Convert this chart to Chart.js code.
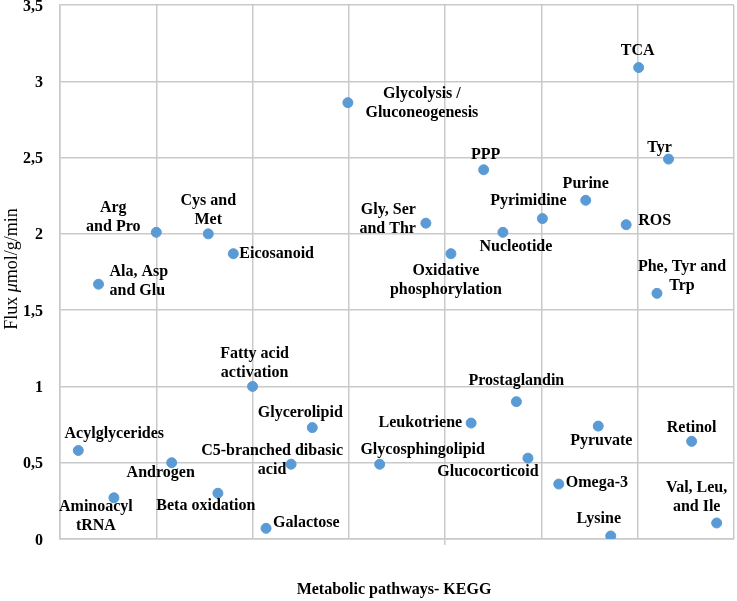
<!DOCTYPE html>
<html>
<head>
<meta charset="utf-8">
<script src="https://cdn.jsdelivr.net/npm/chart.js@4.4.1/dist/chart.umd.min.js"></script>
<style>
  html, body { margin: 0; padding: 0; background: #fff; overflow: hidden; }
  canvas { display: block; }
</style>
</head>
<body>
<canvas id="c" width="737" height="601" style="width:737px;height:601px"></canvas>
<script>
/* Flux per KEGG pathway */
const pathways = [
  'Acylglycerides', 'Ala, Asp\nand Glu', 'Aminoacyl\ntRNA', 'Arg\nand Pro', 'Androgen',
  'Cys and\nMet', 'Beta oxidation', 'Eicosanoid', 'Fatty acid\nactivation', 'Galactose',
  'C5-branched dibasic\nacid', 'Glycerolipid', 'Glycolysis /\nGluconeogenesis', 'Glycosphingolipid',
  'Gly, Ser\nand Thr', 'Oxidative\nphosphorylation', 'Leukotriene', 'PPP', 'Nucleotide',
  'Prostaglandin', 'Glucocorticoid', 'Pyrimidine', 'Omega-3', 'Purine', 'Pyruvate', 'Lysine',
  'ROS', 'TCA', 'Phe, Tyr and\nTrp', 'Tyr', 'Retinol', 'Val, Leu,\nand Ile'
];
const pathwayPos = [
  0.95, 2.0, 2.8, 5.0, 5.8, 7.7, 8.2, 9.0, 10.0, 10.7,
  12.0, 13.1, 14.95, 16.6, 19.0, 20.3, 21.35, 22.0, 23.0, 23.7,
  24.3, 25.05, 25.9, 27.3, 27.95, 28.6, 29.4, 30.05, 31.0, 31.6,
  32.8, 34.1
];
const fluxValues = [
  0.58, 1.67, 0.27, 2.01, 0.50, 2.00, 0.30, 1.87, 1.00, 0.07,
  0.49, 0.73, 2.86, 0.49, 2.07, 1.87, 0.76, 2.42, 2.01, 0.90,
  0.53, 2.10, 0.36, 2.22, 0.74, 0.02, 2.06, 3.09, 1.61, 2.49,
  0.64, 0.105
];
const yTicks = [0, 0.5, 1, 1.5, 2, 2.5, 3, 3.5];
const xTitle = 'Metabolic pathways- KEGG';
const yTitle = ['Flux ', 'μ', 'mol/g/min'];

/* posição dos rótulos: [dx, dy da 1ª linha, alinhamento] */
const labelPlace = [
  [36, -17, 'center'], [11, -12, 'left'], [-18, 9, 'center'], [-43, -24, 'center'], [-11, 10, 'center'],
  [0, -33, 'center'], [-12, 13, 'center'], [6, 0, 'left'], [2, -33, 'center'], [7, -5, 'left'],
  [-19, -13, 'center'], [-12, -15, 'center'], [74, -9, 'center'], [43, -14, 'center'],
  [-10, -13, 'right'], [-5, 17, 'center'], [-9, 0, 'right'], [2, -15, 'center'], [13, 15, 'center'],
  [0, -21, 'center'], [-40, 14, 'center'], [-14, -18, 'center'], [7, -1, 'left'], [0, -16, 'center'],
  [3, 15, 'center'], [-12, -17, 'center'], [12, -4, 'left'], [-1, -17, 'center'], [25, -27, 'center'],
  [-9, -11, 'center'], [0, -13, 'center'], [-20, -35, 'center']
];

const SERIF = '"Liberation Serif", "Times New Roman", serif';
const gridCol = '#c9c9c9';

const pointLabels = {
  id: 'pointLabels',
  afterDatasetsDraw(chart) {
    const { ctx } = chart;
    const meta = chart.getDatasetMeta(0);
    ctx.save();
    ctx.font = 'bold 16px ' + SERIF;
    ctx.fillStyle = '#000';
    ctx.textBaseline = 'middle';
    meta.data.forEach((pt, i) => {
      const [dx, dy, align] = labelPlace[i];
      ctx.textAlign = align;
      pathways[i].split('\n').forEach((line, k) => {
        ctx.fillText(line, pt.x + dx, pt.y + dy + k * 19);
      });
    });
    ctx.restore();
  }
};

const axisTitles = {
  id: 'axisTitles',
  afterDraw(chart) {
    const { ctx, chartArea } = chart;
    ctx.save();
    ctx.fillStyle = '#000';
    ctx.textBaseline = 'middle';
    ctx.textAlign = 'center';
    ctx.font = 'bold 16px ' + SERIF;
    ctx.fillText(xTitle, (chartArea.left + chartArea.right) / 2 - 3, 590);

    // título vertical com µ em itálico
    const fonts = ['18px ' + SERIF, 'italic 18px ' + SERIF, '18px ' + SERIF];
    const widths = yTitle.map((t, i) => { ctx.font = fonts[i]; return ctx.measureText(t).width; });
    const total = widths.reduce((a, b) => a + b, 0);
    ctx.translate(12, 269);
    ctx.rotate(-Math.PI / 2);
    ctx.textAlign = 'left';
    let x = -total / 2;
    yTitle.forEach((t, i) => { ctx.font = fonts[i]; ctx.fillText(t, x, 0); x += widths[i]; });
    ctx.restore();
  }
};

new Chart(document.getElementById('c'), {
  type: 'scatter',
  data: {
    datasets: [{
      data: pathwayPos.map((x, i) => ({ x, y: fluxValues[i] })),
      backgroundColor: '#5b9bd5',
      borderColor: '#5b9bd5',
      borderWidth: 1,
      pointRadius: 5,
      pointHoverRadius: 5
    }]
  },
  options: {
    responsive: false,
    animation: false,
    devicePixelRatio: 1,
    layout: { autoPadding: false, padding: { top: 5, right: 3, left: 0, bottom: 0 } },
    plugins: { legend: { display: false }, tooltip: { enabled: false } },
    scales: {
      x: {
        type: 'linear', min: 0, max: 35,
        ticks: { stepSize: 5, display: false },
        grid: {
          color: gridCol, lineWidth: 1.5, drawTicks: true, tickLength: 6,
          tickColor: ctx => (ctx.tick && ctx.tick.value === 20) ? gridCol : 'rgba(0,0,0,0)'
        },
        border: { color: gridCol, width: 1.5 },
        afterFit: s => { s.height = 62; s.paddingLeft = 0; s.paddingRight = 0; }
      },
      y: {
        min: 0, max: 3.5,
        afterBuildTicks: s => { s.ticks = yTicks.map(v => ({ value: v })); },
        ticks: {
          padding: 17, color: '#000', labelOffset: 1.5,
          font: { family: SERIF, size: 16, weight: 'bold' },
          callback: v => String(v).replace('.', ',')
        },
        grid: { color: gridCol, lineWidth: 1.5, drawTicks: false },
        border: { color: gridCol, width: 1.5 },
        afterFit: s => { s.width = 60; s.paddingTop = 0; s.paddingBottom = 0; }
      }
    }
  },
  plugins: [pointLabels, axisTitles]
});
</script>
</body>
</html>
